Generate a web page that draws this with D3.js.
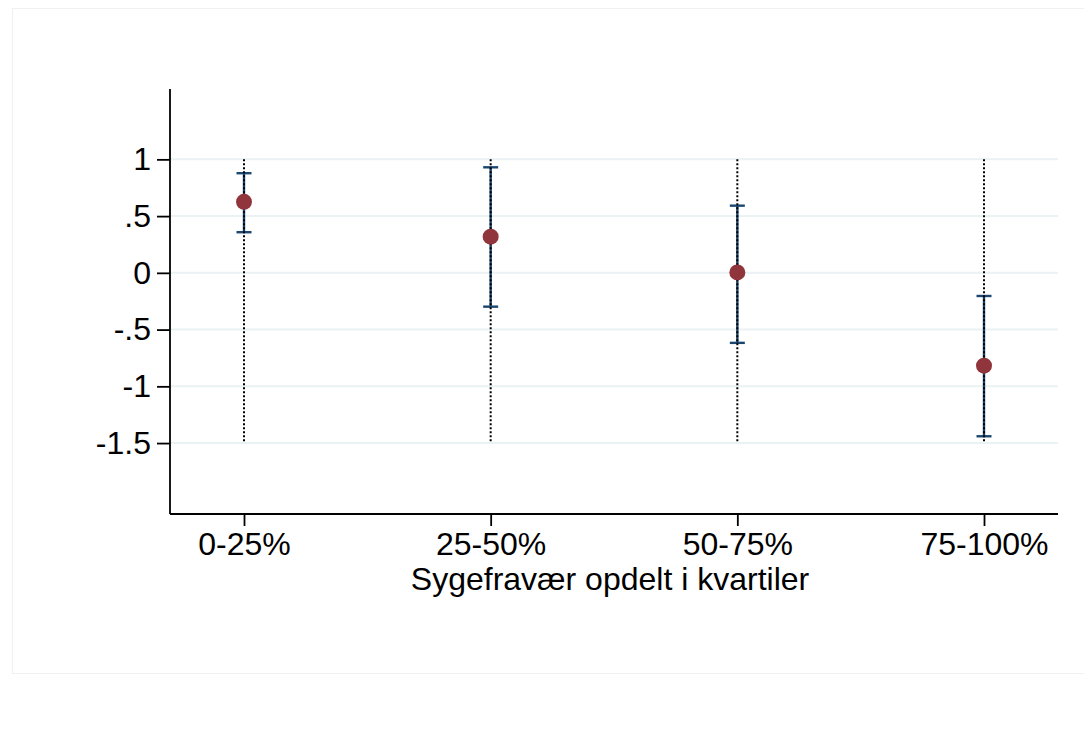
<!DOCTYPE html>
<html><head><meta charset="utf-8">
<script src="https://cdn.jsdelivr.net/npm/d3@7"></script>
<style>
html,body{margin:0;padding:0;background:#fff;}
svg{display:block;font-family:Arial,"Liberation Sans",sans-serif;}
</style></head>
<body>
<svg id="chart" width="1084" height="741"></svg>
<script>
const categories = ["0-25%", "25-50%", "50-75%", "75-100%"];
const estimates = [0.626, 0.319, 0.004, -0.818];
const ciLower = [0.358, -0.298, -0.617, -1.44];
const ciUpper = [0.878, 0.930, 0.592, -0.204];
const yTicks = [1, 0.5, 0, -0.5, -1, -1.5];
const yTickLabels = ["1", ".5", "0", "-.5", "-1", "-1.5"];
const refRange = [-1.5, 1];
const xTitle = "Sygefravær opdelt i kvartiler";

const svg = d3.select("#chart");
const pLeft = 170, pRight = 1058, pTop = 89, pBottom = 514;

// faint outer frame
svg.append("rect").attr("x", 12.5).attr("y", 8.5).attr("width", 1090).attr("height", 665)
  .attr("fill", "none").attr("stroke", "#f0f0f0").attr("stroke-width", 1);

const x = d3.scaleLinear().domain([0.7, 4.3]).range([pLeft, pRight]);
const y = d3.scaleLinear().domain([-2.125, 1.62]).range([pBottom, pTop]);

// gridlines
svg.append("g").selectAll("line").data(yTicks).join("line")
  .attr("x1", pLeft).attr("x2", pRight)
  .attr("y1", d => y(d)).attr("y2", d => y(d))
  .attr("stroke", "#eaf2f3").attr("stroke-width", 2);

const data = categories.map((c, i) => ({c, i: i + 1, est: estimates[i], lo: ciLower[i], hi: ciUpper[i]}));

// error bars
const eb = svg.append("g").attr("stroke", "#1a476f").attr("stroke-width", 2.4);
eb.selectAll("line.v").data(data).join("line").attr("class", "v")
  .attr("x1", d => x(d.i)).attr("x2", d => x(d.i))
  .attr("y1", d => y(d.lo)).attr("y2", d => y(d.hi));
eb.selectAll("line.capHi").data(data).join("line").attr("class", "capHi")
  .attr("x1", d => x(d.i) - 7.5).attr("x2", d => x(d.i) + 7.5)
  .attr("y1", d => y(d.hi)).attr("y2", d => y(d.hi));
eb.selectAll("line.capLo").data(data).join("line").attr("class", "capLo")
  .attr("x1", d => x(d.i) - 7.5).attr("x2", d => x(d.i) + 7.5)
  .attr("y1", d => y(d.lo)).attr("y2", d => y(d.lo));

// dotted reference lines
svg.append("g").selectAll("line").data(data).join("line")
  .attr("x1", d => x(d.i)).attr("x2", d => x(d.i))
  .attr("y1", y(refRange[1])).attr("y2", y(refRange[0]))
  .attr("stroke", "#000").attr("stroke-width", 2).attr("stroke-dasharray", "2,2");

// points
svg.append("g").selectAll("circle").data(data).join("circle")
  .attr("cx", d => x(d.i)).attr("cy", d => y(d.est)).attr("r", 8)
  .attr("fill", "#90353b");

// axes
const yAxis = d3.axisLeft(y).tickValues(yTicks).tickFormat((d, i) => yTickLabels[i]).tickSize(13).tickPadding(6);
const gy = svg.append("g").attr("transform", `translate(${pLeft},0)`).call(yAxis);
gy.select(".domain").attr("d", `M0,${pTop}V${pBottom}`).attr("stroke", "#000").attr("stroke-width", 1.8);
gy.selectAll(".tick line").attr("stroke", "#000").attr("stroke-width", 1.8);
gy.selectAll(".tick text").attr("font-size", 32).attr("fill", "#000").attr("font-family", "Arial, 'Liberation Sans', sans-serif");

const xAxis = d3.axisBottom(x).tickValues([1, 2, 3, 4]).tickFormat((d, i) => categories[i]).tickSize(12).tickPadding(6);
const gx = svg.append("g").attr("transform", `translate(0,${pBottom})`).call(xAxis);
gx.select(".domain").attr("d", `M${pLeft},0H${pRight}`).attr("stroke", "#000").attr("stroke-width", 1.8);
gx.selectAll(".tick line").attr("stroke", "#000").attr("stroke-width", 1.8);
gx.selectAll(".tick text").attr("font-size", 32).attr("fill", "#000").attr("font-family", "Arial, 'Liberation Sans', sans-serif");

svg.append("text").attr("x", (pLeft + pRight) / 2 - 4).attr("y", 590)
  .attr("text-anchor", "middle").attr("font-size", 32).attr("fill", "#000")
  .text(xTitle);
</script>
</body></html>
